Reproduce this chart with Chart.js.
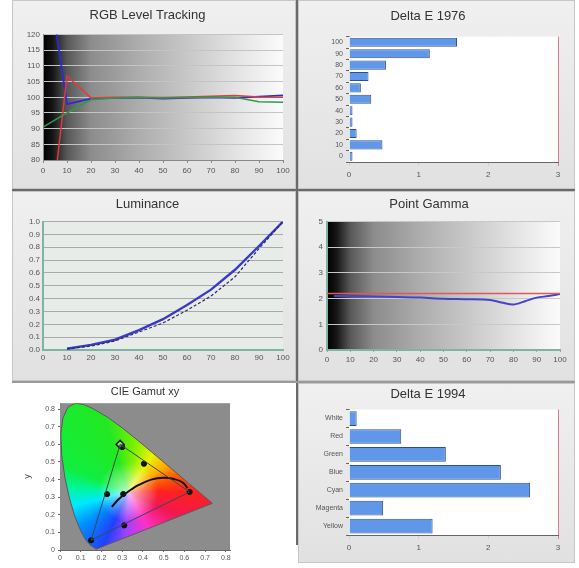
<!DOCTYPE html>
<html>
<head>
<meta charset="utf-8">
<script src="https://cdn.jsdelivr.net/npm/chart.js@4.4.1/dist/chart.umd.min.js"></script>
<style>
body { margin: 0; width: 579px; height: 568px; background: #fff; position: relative; overflow: hidden; }
.p { position: absolute; background: linear-gradient(#f0f0f0, #e1e1e1); box-shadow: inset 0 0 0 1px #c6c6c6; }
.p.w { background: #fff; box-shadow: none; }
.rule { position: absolute; background: #6a6a6a; }
</style>
</head>
<body>
<div class="p" style="left:12px;top:0;width:284px;height:189px"><canvas id="c1"></canvas></div>
<div class="p" style="left:298px;top:0;width:277px;height:189px"><canvas id="c2"></canvas></div>
<div class="p" style="left:12px;top:191px;width:284px;height:190px"><canvas id="c3"></canvas></div>
<div class="p" style="left:298px;top:191px;width:277px;height:190px"><canvas id="c4"></canvas></div>
<div class="p w" style="left:12px;top:383px;width:284px;height:185px"><canvas id="c5"></canvas></div>
<div class="p" style="left:298px;top:383px;width:277px;height:180px"><canvas id="c6"></canvas></div>
<div class="rule" style="left:296px;top:0;width:2px;height:545px"></div>
<div class="rule" style="left:12px;top:189px;width:563px;height:2px"></div>
<div class="rule" style="left:12px;top:381px;width:563px;height:2px;background:#9a9a9a"></div>
<script>
// RGB Level Tracking
const trackX = [0, 10, 20, 30, 40, 50, 60, 70, 80, 90, 100];
const trackRed = [40, 106.8, 99.8, 100, 100, 99.9, 100.1, 100.3, 100.6, 100.1, 100];
const trackGreen = [90.5, 95, 99.2, 99.8, 99.9, 99.8, 99.9, 100, 100, 98.6, 98.4];
const trackBlue = [150, 97.8, 99.6, 99.8, 99.9, 99.6, 99.8, 100, 99.8, 100.2, 100.6];

// Delta E 1976 (grey steps)
const de76Labels = ['100', '90', '80', '70', '60', '50', '40', '30', '20', '10', '0'];
const de76Values = [1.55, 1.16, 0.53, 0.28, 0.17, 0.32, 0.05, 0.05, 0.11, 0.48, 0.05];

// Luminance
const lumX = [10, 20, 30, 40, 50, 60, 70, 80, 90, 100];
const lumMeasured = [0.01, 0.04, 0.08, 0.155, 0.24, 0.35, 0.47, 0.625, 0.81, 1.0];
const lumTarget = [0.01, 0.03, 0.07, 0.14, 0.21, 0.31, 0.42, 0.57, 0.79, 1.0];

// Point Gamma
const gammaX = [3, 10, 20, 30, 40, 50, 60, 70, 75, 80, 85, 90, 95, 100];
const gammaMeasured = [2.1, 2.1, 2.08, 2.06, 2.04, 2.0, 1.98, 1.95, 1.85, 1.77, 1.9, 2.04, 2.1, 2.18];
const gammaTargetX = [0, 100];
const gammaTarget = [2.2, 2.2];

// CIE xy
const cieTicks = [0, 0.1, 0.2, 0.3, 0.4, 0.5, 0.6, 0.7, 0.8];
const locusX = [0.1741, 0.1440, 0.1241, 0.1096, 0.0913, 0.0687, 0.0454, 0.0235, 0.0082, 0.0039, 0.0139, 0.0389, 0.0743, 0.1142, 0.1547, 0.2296, 0.3016, 0.3731, 0.4441, 0.5125, 0.5752, 0.6270, 0.6915, 0.7347, 0.1741];
const locusY = [0.0050, 0.0297, 0.0578, 0.0868, 0.1327, 0.2007, 0.2950, 0.4127, 0.5384, 0.6548, 0.7502, 0.8120, 0.8338, 0.8262, 0.8059, 0.7543, 0.6923, 0.6245, 0.5547, 0.4866, 0.4242, 0.3725, 0.3083, 0.2653, 0.0050];
const gamutX = [0.625, 0.29, 0.15, 0.625];
const gamutY = [0.33, 0.60, 0.055, 0.33];
const measX = [0.625, 0.30, 0.15, 0.227, 0.31, 0.405, 0.305];
const measY = [0.33, 0.585, 0.055, 0.317, 0.14, 0.49, 0.318];
const planckX = [0.25, 0.28, 0.31, 0.345, 0.38, 0.44, 0.50, 0.55, 0.59, 0.615];
const planckY = [0.245, 0.285, 0.315, 0.345, 0.37, 0.40, 0.41, 0.403, 0.385, 0.352];

// Delta E 1994 (colours)
const de94Labels = ['White', 'Red', 'Green', 'Blue', 'Cyan', 'Magenta', 'Yellow'];
const de94Values = [0.11, 0.75, 1.39, 2.18, 2.60, 0.49, 1.20];

Chart.defaults.font.family = '"Liberation Sans", Arial, sans-serif';
Chart.defaults.font.size = 8;
Chart.defaults.color = '#555';
Chart.defaults.animation = false;
Chart.defaults.maintainAspectRatio = false;
Chart.defaults.plugins.legend.display = false;
Chart.defaults.plugins.tooltip.enabled = false;
Chart.defaults.elements.point.radius = 0;

const pts = (xs, ys) => xs.map((x, i) => ({ x: x, y: ys[i] }));
const title = (text, size, top, bottom) => ({ display: true, text: text, color: '#333', font: { size: size, weight: 'normal' }, padding: { top: top, bottom: bottom } });
const fixW = w => s => { s.width = w; };
const fixH = h => s => { s.height = h; };

// paints the plot area before the datasets
function plotBg(id, paint) {
    return {
        id: id,
        beforeDatasetsDraw(chart) {
            const a = chart.chartArea, ctx = chart.ctx;
            ctx.save();
            ctx.fillStyle = paint(ctx, a);
            ctx.fillRect(a.left, a.top, a.width, a.height);
            ctx.restore();
        }
    };
}
function greyRamp(ctx, a) {
    const g = ctx.createLinearGradient(a.left, 0, a.right, 0);
    g.addColorStop(0, '#000');
    g.addColorStop(0.04, '#151515');
    g.addColorStop(0.1, '#585858');
    g.addColorStop(0.2, '#8c8c8c');
    g.addColorStop(0.4, '#adadad');
    g.addColorStop(0.65, '#cecece');
    g.addColorStop(0.85, '#e9e9e9');
    g.addColorStop(1, '#fbfbfb');
    return g;
}
// ramp goes under the grid lines
function rampFirst(id) {
    return {
        id: id,
        beforeDraw(chart) {
            const a = chart.chartArea, ctx = chart.ctx;
            ctx.save();
            ctx.fillStyle = greyRamp(ctx, a);
            ctx.fillRect(a.left, a.top, a.width, a.height);
            ctx.restore();
        }
    };
}

// 1. RGB Level Tracking
new Chart(document.getElementById('c1'), {
    type: 'line',
    data: {
        datasets: [
            { data: pts(trackX, trackGreen), borderColor: '#2f9a4c', borderWidth: 1.5 },
            { data: pts(trackX, trackRed), borderColor: '#e03a3a', borderWidth: 1.5 },
            { data: pts(trackX, trackBlue), borderColor: '#2c2cd4', borderWidth: 1.8 }
        ]
    },
    options: {
        layout: { padding: { right: 13, bottom: 7 } },
        plugins: { title: title('RGB Level Tracking', 13, 8, 11) },
        scales: {
            x: {
                type: 'linear', min: 0, max: 100,
                ticks: { stepSize: 10, maxRotation: 0, padding: 3 },
                grid: { drawOnChartArea: false, tickLength: 3, color: '#888' },
                border: { color: '#888' },
                afterFit: fixH(22)
            },
            y: {
                min: 80, max: 120,
                ticks: { stepSize: 5, padding: 3 },
                grid: { color: '#c4c4c4', tickLength: 0 },
                border: { color: '#888' },
                afterFit: fixW(31)
            }
        }
    },
    plugins: [rampFirst('ramp1')]
});

// bar chart for the two Delta E panels
function deltaChart(id, labels, values, text, tPad, yW, bottom, barPct) {
    new Chart(document.getElementById(id), {
        type: 'bar',
        data: {
            labels: labels,
            datasets: [{ data: values, backgroundColor: '#6197e8', borderColor: '#2e4f8e', borderWidth: 1, barPercentage: barPct, categoryPercentage: 1 }]
        },
        options: {
            indexAxis: 'y',
            layout: { padding: { right: 17, bottom: bottom } },
            plugins: { title: title(text, 13, tPad[0], tPad[1]) },
            scales: {
                x: {
                    min: 0, max: 3,
                    ticks: { stepSize: 1, padding: 4 },
                    grid: { color: c => c.tick && c.tick.value === 3 ? '#e07a8a' : '#cfcfcf', tickLength: 4 },
                    border: { color: '#666' },
                    afterFit: fixH(20)
                },
                y: {
                    ticks: { font: { size: 7 }, padding: 3, autoSkip: false },
                    grid: { drawOnChartArea: false, tickLength: 3, color: '#666', offset: true },
                    border: { color: '#666' },
                    afterFit: fixW(yW)
                }
            }
        },
        plugins: [plotBg('white_' + id, () => '#fff')]
    });
}
deltaChart('c2', de76Labels, de76Values, 'Delta E 1976', [9, 12], 51, 7, 0.8);

// 3. Luminance
new Chart(document.getElementById('c3'), {
    type: 'line',
    data: {
        datasets: [
            { data: pts(lumX, lumTarget), borderColor: '#2c2c58', borderWidth: 1.2, borderDash: [3, 2] },
            { data: pts(lumX, lumMeasured), borderColor: '#3a3ac8', borderWidth: 2.4 }
        ]
    },
    options: {
        layout: { padding: { right: 13, bottom: 11 } },
        plugins: { title: title('Luminance', 13, 6, 9) },
        scales: {
            x: {
                type: 'linear', min: 0, max: 100,
                ticks: { stepSize: 10, maxRotation: 0, padding: 3 },
                grid: { drawOnChartArea: false, tickLength: 0 },
                border: { color: '#7fb3a2', width: 2 },
                afterFit: fixH(20)
            },
            y: {
                min: 0, max: 1,
                ticks: { stepSize: 0.1, padding: 3, callback: v => v.toFixed(1) },
                grid: { color: '#a8aaa8', tickLength: 0 },
                border: { color: '#7fb3a2', width: 2 },
                afterFit: fixW(31)
            }
        }
    },
    plugins: [{
        id: 'lumBg',
        beforeDraw(chart) {
            const a = chart.chartArea, ctx = chart.ctx;
            ctx.save();
            ctx.fillStyle = '#e7ece9';
            ctx.fillRect(a.left, a.top, a.width, a.height);
            ctx.restore();
        }
    }]
});

// 4. Point Gamma
new Chart(document.getElementById('c4'), {
    type: 'line',
    data: {
        datasets: [
            { data: pts(gammaTargetX, gammaTarget), borderColor: '#e2585a', borderWidth: 1.5 },
            { data: pts(gammaX, gammaMeasured), borderColor: '#4444c4', borderWidth: 2, tension: 0.3 }
        ]
    },
    options: {
        layout: { padding: { right: 15, bottom: 11 } },
        plugins: { title: title('Point Gamma', 13, 6, 9) },
        scales: {
            x: {
                type: 'linear', min: 0, max: 100,
                ticks: { stepSize: 10, maxRotation: 0, padding: 3 },
                grid: { drawOnChartArea: false, tickLength: 2, color: '#7fb3a2' },
                border: { color: '#7fb3a2', width: 2 },
                afterFit: fixH(20)
            },
            y: {
                min: 0, max: 5,
                ticks: { stepSize: 1, padding: 4 },
                grid: { color: '#c8c8c8', tickLength: 0 },
                border: { color: '#7fb3a2', width: 2 },
                afterFit: fixW(29)
            }
        }
    },
    plugins: [rampFirst('ramp4')]
});

// 5. CIE Gamut xy
const cieFill = {
    id: 'cieFill',
    beforeDatasetsDraw(chart) {
        const ctx = chart.ctx, a = chart.chartArea, x = chart.scales.x, y = chart.scales.y;
        ctx.save();
        ctx.fillStyle = '#8c8c8c';
        ctx.fillRect(a.left, a.top, a.width, a.height);
        ctx.beginPath();
        locusX.forEach((v, i) => {
            const px = x.getPixelForValue(v), py = y.getPixelForValue(locusY[i]);
            if (i) ctx.lineTo(px, py); else ctx.moveTo(px, py);
        });
        ctx.closePath();
        ctx.clip();
        const cx = x.getPixelForValue(0.33), cy = y.getPixelForValue(0.33);
        const g = ctx.createConicGradient(0, cx, cy);
        g.addColorStop(0, '#ff2020');
        g.addColorStop(0.07, '#f01850');
        g.addColorStop(0.17, '#ff30c8');
        g.addColorStop(0.26, '#a040ff');
        g.addColorStop(0.32, '#2040ff');
        g.addColorStop(0.40, '#0090ff');
        g.addColorStop(0.46, '#00e8ff');
        g.addColorStop(0.51, '#00f6a0');
        g.addColorStop(0.56, '#10ee40');
        g.addColorStop(0.70, '#22e822');
        g.addColorStop(0.77, '#7cf000');
        g.addColorStop(0.84, '#e8f400');
        g.addColorStop(0.90, '#ffb000');
        g.addColorStop(0.95, '#ff5a00');
        g.addColorStop(1, '#ff2020');
        ctx.fillStyle = g;
        ctx.fillRect(a.left, a.top, a.width, a.height);
        const r = ctx.createRadialGradient(cx, cy, 0, cx, cy, 30);
        r.addColorStop(0, 'rgba(255,255,255,0.7)');
        r.addColorStop(1, 'rgba(255,255,255,0)');
        ctx.fillStyle = r;
        ctx.fillRect(a.left, a.top, a.width, a.height);
        ctx.restore();
    }
};
const setCieTicks = s => { s.ticks = cieTicks.map(v => ({ value: v })); };
new Chart(document.getElementById('c5'), {
    type: 'scatter',
    data: {
        datasets: [
            { data: pts(locusX, locusY), showLine: true, borderColor: '#5a5a5a', borderWidth: 1, pointRadius: 0 },
            { data: pts(gamutX, gamutY), showLine: true, borderColor: '#3a4a4a', borderWidth: 1, pointRadius: 0 },
            { data: pts(planckX, planckY), showLine: true, borderColor: '#111', borderWidth: 2, pointRadius: 0, tension: 0.4 },
            { data: pts([gamutX[1]], [gamutY[1]]), pointStyle: 'rectRot', pointRadius: 4, borderColor: '#222', borderWidth: 1.5, backgroundColor: 'rgba(255,255,255,0.4)' },
            { data: pts(measX, measY), pointRadius: 2.6, backgroundColor: '#111', borderColor: '#111' }
        ]
    },
    options: {
        layout: { padding: { left: 10, right: 28, bottom: 2 } },
        plugins: { title: title('CIE Gamut xy', 11, 2, 5) },
        scales: {
            x: {
                type: 'linear', min: 0, max: 0.82,
                afterBuildTicks: setCieTicks,
                ticks: { maxRotation: 0, padding: 2, font: { size: 7 }, callback: v => String(+v.toFixed(1)) },
                grid: { drawOnChartArea: false, tickLength: 2, color: '#666' },
                border: { color: '#666' },
                afterFit: fixH(16)
            },
            y: {
                min: 0, max: 0.834,
                afterBuildTicks: setCieTicks,
                ticks: { padding: 3, font: { size: 7 }, callback: v => String(+v.toFixed(1)) },
                grid: { drawOnChartArea: false, tickLength: 2, color: '#666' },
                border: { color: '#666' },
                title: { display: true, text: 'y', color: '#444', font: { size: 9 }, padding: 0 },
                afterFit: fixW(38)
            },
            // empty right-hand spacer so the title centres over the plot
            y2: {
                position: 'right', min: 0, max: 1,
                ticks: { display: false },
                grid: { display: false },
                border: { display: false },
                afterFit: fixW(38)
            }
        }
    },
    plugins: [cieFill]
});

// 6. Delta E 1994
deltaChart('c6', de94Labels, de94Values, 'Delta E 1994', [4, 7], 51, 8, 0.82);
</script>
</body>
</html>
